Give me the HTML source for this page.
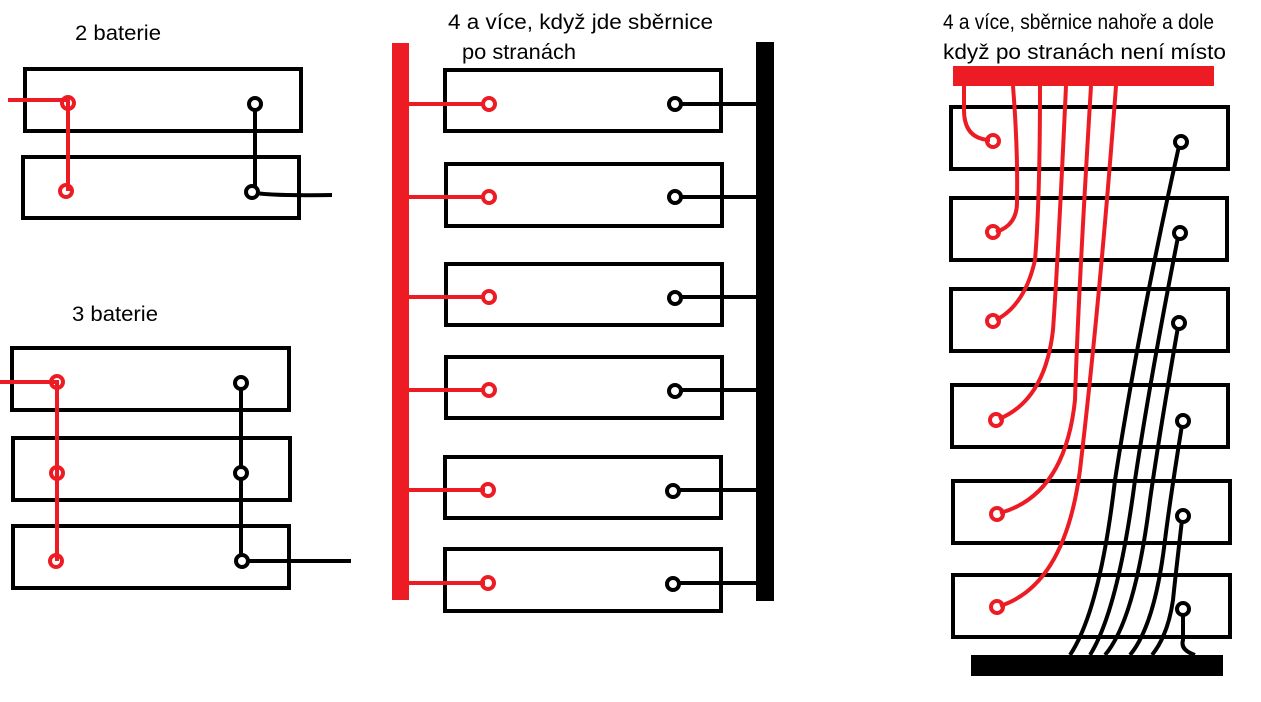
<!DOCTYPE html>
<html><head><meta charset="utf-8"><style>
html,body{margin:0;padding:0;background:#fff;}
svg{display:block}
text{font-family:"Liberation Sans",sans-serif;font-size:21px;fill:#000}
</style></head><body>
<svg width="1261" height="702" viewBox="0 0 1261 702">
<g fill="none" stroke="#000" stroke-width="4">
<rect x="25" y="69" width="276" height="62"/>
<rect x="23" y="157" width="276" height="61"/>
<rect x="12" y="348" width="277" height="62"/>
<rect x="13" y="438" width="277" height="62"/>
<rect x="13" y="526" width="276" height="62"/>
<rect x="445" y="70" width="276" height="61"/>
<rect x="446" y="164" width="276" height="62"/>
<rect x="446" y="264" width="276" height="61"/>
<rect x="446" y="357" width="276" height="61"/>
<rect x="445" y="457" width="276" height="61"/>
<rect x="445" y="549" width="276" height="62"/>
<rect x="951" y="107" width="277" height="62"/>
<rect x="951" y="198" width="276" height="62"/>
<rect x="951" y="289" width="277" height="62"/>
<rect x="952" y="385" width="276" height="62"/>
<rect x="953" y="481" width="277" height="62"/>
<rect x="953" y="575" width="277" height="62"/>
</g>
<text x="75" y="40" textLength="86" lengthAdjust="spacingAndGlyphs">2 baterie</text>
<text x="72" y="321" textLength="86" lengthAdjust="spacingAndGlyphs">3 baterie</text>
<text x="448" y="29" textLength="265" lengthAdjust="spacingAndGlyphs">4 a více, když jde sběrnice</text>
<text x="462" y="59" textLength="114" lengthAdjust="spacingAndGlyphs">po stranách</text>
<text x="943" y="29" textLength="271" lengthAdjust="spacingAndGlyphs">4 a více, sběrnice nahoře a dole</text>
<text x="943" y="59" textLength="283" lengthAdjust="spacingAndGlyphs">když po stranách není místo</text>

<g stroke="#ed1c24" stroke-width="4" fill="none">
<path d="M8 100 H68 V191"/>
<path d="M0 382 H57 V561"/>
<circle cx="68" cy="103" r="6"/><circle cx="66" cy="191" r="6"/>
<circle cx="57" cy="382" r="6"/><circle cx="57" cy="473" r="6"/><circle cx="56" cy="561" r="6"/>
<path d="M409 104H485M409 197H485M409 297H485M409 390H485M409 490H485M409 583H485"/>
<circle cx="489" cy="104" r="6"/><circle cx="489" cy="197" r="6"/><circle cx="489" cy="297" r="6"/>
<circle cx="489" cy="390" r="6"/><circle cx="488" cy="490" r="6"/><circle cx="488" cy="583" r="6"/>
<circle cx="993" cy="141" r="6"/><circle cx="993" cy="232" r="6"/><circle cx="993" cy="321" r="6"/>
<circle cx="996" cy="420" r="6"/><circle cx="997" cy="514" r="6"/><circle cx="997" cy="607" r="6"/>
<path d="M964 86 V110 Q964 139 990 140"/>
<path d="M1013 86 Q1018 150 1017 200 Q1018 225 996 232"/>
<path d="M1040 86 Q1040 200 1035 260 Q1025 305 996 320"/>
<path d="M1066 86 Q1058 260 1053 330 Q1045 400 999 419"/>
<path d="M1091 86 Q1078 300 1075 400 Q1065 495 1000 513"/>
<path d="M1116 86 Q1100 300 1080 470 Q1065 585 1000 606"/>
</g>
<rect x="392" y="43" width="17" height="557" fill="#ed1c24"/>
<rect x="953" y="66" width="261" height="20" fill="#ed1c24"/>
<rect x="756" y="42" width="18" height="559" fill="#000"/>
<rect x="971" y="655" width="252" height="21" fill="#000"/>
<g stroke="#000" stroke-width="4" fill="none">
<path d="M255 104 V192 M252 192 Q262 196 332 195"/>
<path d="M241 383 V561 H351"/>
<circle cx="255" cy="104" r="6" fill="#fff"/><circle cx="252" cy="192" r="6" fill="#fff"/>
<circle cx="241" cy="383" r="6" fill="#fff"/><circle cx="241" cy="473" r="6" fill="#fff"/><circle cx="242" cy="561" r="6" fill="#fff"/>
<path d="M680 104H756M680 197H756M680 297H756M680 390H756M680 490H756M680 583H756"/>
<circle cx="675" cy="104" r="6" fill="#fff"/><circle cx="675" cy="197" r="6" fill="#fff"/><circle cx="675" cy="298" r="6" fill="#fff"/>
<circle cx="675" cy="391" r="6" fill="#fff"/><circle cx="673" cy="491" r="6" fill="#fff"/><circle cx="673" cy="584" r="6" fill="#fff"/>
<path d="M1179 146 Q1140 320 1115 480 Q1100 610 1070 655"/>
<path d="M1178 237 Q1150 380 1135 480 Q1118 610 1090 655"/>
<path d="M1178 327 Q1160 430 1150 500 Q1135 620 1105 655"/>
<path d="M1182 425 Q1170 500 1165 540 Q1155 625 1130 655"/>
<path d="M1182 520 Q1175 580 1173 600 Q1168 635 1152 655"/>
<path d="M1183 612 V640 Q1180 650 1195 655"/>
<circle cx="1181" cy="142" r="6" fill="#fff"/><circle cx="1180" cy="233" r="6" fill="#fff"/><circle cx="1179" cy="323" r="6" fill="#fff"/>
<circle cx="1183" cy="421" r="6" fill="#fff"/><circle cx="1183" cy="516" r="6" fill="#fff"/><circle cx="1183" cy="609" r="6" fill="#fff"/>
</g>
</svg>
</body></html>
